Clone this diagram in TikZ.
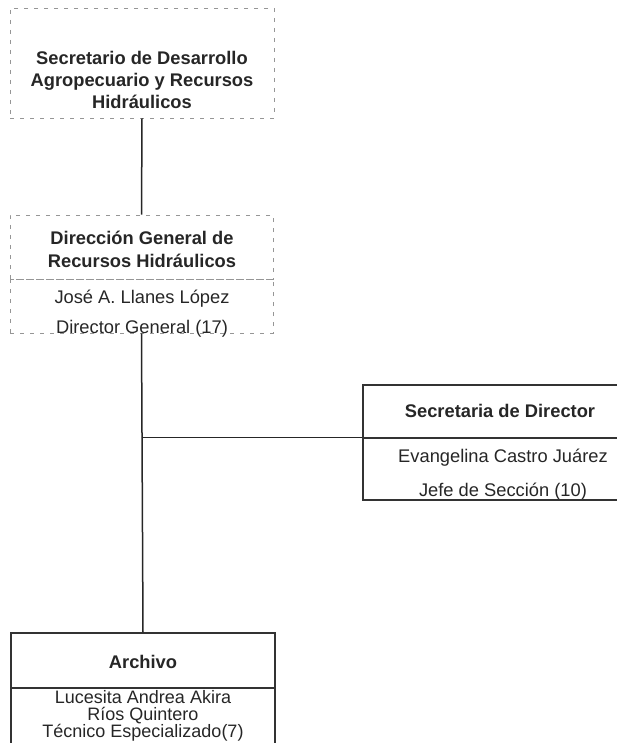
\documentclass[tikz,border=0pt]{standalone}
\usepackage{fontspec}
\setmainfont{Liberation Sans}
\usepackage{tikz}
\usetikzlibrary{fit,positioning}
\definecolor{mygray}{RGB}{150,150,150}

\begin{document}
\begin{tikzpicture}[x=1pt,y=-1pt,inner sep=0pt]
\tikzstyle{title}=[align=center, text=black!85, font=\fontsize{18.3}{22}\selectfont\bfseries]
\tikzstyle{person}=[align=center, text=black!85, font=\fontsize{18.3}{30}\selectfont]
\tikzstyle{dashbox}=[rectangle, draw=mygray, dash pattern=on 4pt off 6pt, line width=0.8pt]
\tikzstyle{solidbox}=[rectangle, draw=black!80, line width=1.3pt]
\tikzstyle{connect}=[draw=black!85, line width=1.5pt]
\useasboundingbox (0,0) rectangle (617,743);

% secretario
\node[title] (sec) at (142,80) {Secretario de Desarrollo\\Agropecuario y Recursos\\Hidráulicos};
\node[dashbox, fit={(10,8) (274,118)}] (secbox) {};

% direccion general
\node[title, font=\fontsize{18.3}{23}\selectfont\bfseries] (dir) at (142,249) {Dirección General de\\Recursos Hidráulicos};
\node[dashbox, fit={(10,215) (273,279)}] (dirbox) {};
\node[person] (dirname) at (142,314) {José A. Llanes López\\Director General (17)};
\node[dashbox, fit={(10,279) (273,333)}] (dirnamebox) {};

% secretaria
\node[title] (secr) at (500,411) {Secretaria de Director};
\node[solidbox, fit={(363,385) (650,438)}] (secrbox) {};
\node[person, font=\fontsize{18.3}{34}\selectfont] (secrname) at (503,475) {Evangelina Castro Juárez\\Jefe de Sección (10)};
\node[solidbox, fit={(363,438) (650,500)}] (secrnamebox) {};

% archivo
\node[title] (arch) at (143,662) {Archivo};
\node[solidbox, fit={(11,633) (275,688)}] (archbox) {};
\node[person, font=\fontsize{18}{16.5}\selectfont] (archname) at (143,716) {Lucesita Andrea Akira\\Ríos Quintero\\Técnico Especializado(7)};
\node[solidbox, fit={(11,688) (275,770)}] (archnamebox) {};

\coordinate (branch) at (dirnamebox.south |- secrnamebox.north west);
\path[connect] (secbox.south) -- (dirbox.north);
\path[connect] (dirnamebox.south) -- (archbox.north);
\path[connect] (branch) -- (secrnamebox.north west);
\end{tikzpicture}
\end{document}
